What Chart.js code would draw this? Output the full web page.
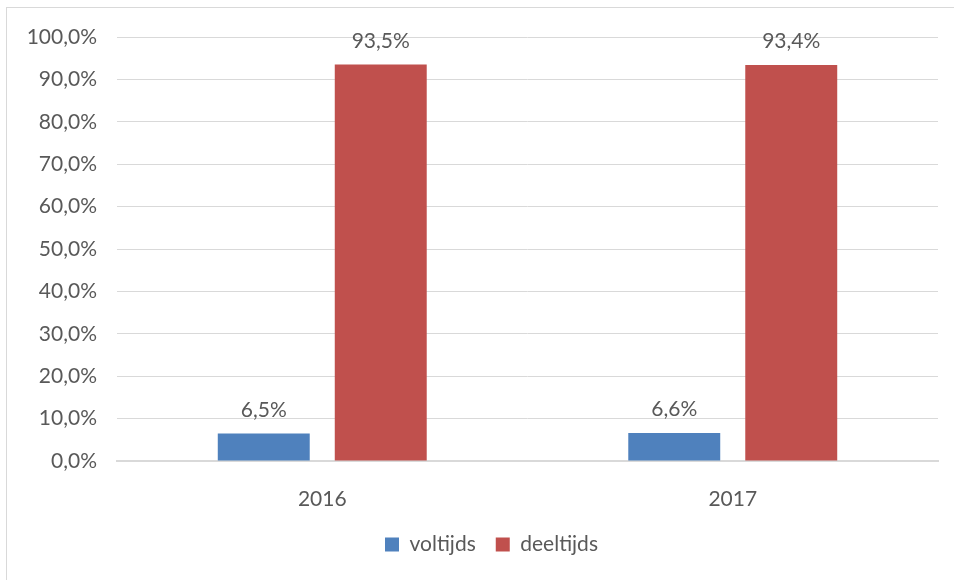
<!DOCTYPE html>
<html>
<head>
<meta charset="utf-8">
<script src="https://cdn.jsdelivr.net/npm/chart.js@4"></script>
<style>
    html, body { margin: 0; padding: 0; background: #fff; overflow: hidden; }
    #frame {
        position: absolute; left: 6px; top: 7px;
        width: 972px; height: 600px;
        border: 1px solid #d9d9d9; background: #fff;
    }
</style>
</head>
<body>
<div id="frame"><canvas id="chart" width="972" height="600"></canvas></div>
<script>
// Datos del gráfico
const categories = ['2016', '2017'];
const voltijds = [6.5, 6.6];
const deeltijds = [93.5, 93.4];
const seriesNames = ['voltijds', 'deeltijds'];
const seriesColors = ['#4f81bd', '#c0504d'];

const textColor = '#595959';
const fontFamily = 'Lato, "Open Sans", sans-serif';
const fontSize = 21;

// Formato con coma decimal
const formatPct = (value) => value.toFixed(1).replace('.', ',') + '%';

// Etiquetas encima de las barras + leyenda desplazada (el marco original es más ancho)
const barLabels = {
    id: 'barLabels',
    beforeDraw(chart) {
        chart.legend.left = 38;
    },
    afterDatasetsDraw(chart) {
        const ctx = chart.ctx;
        ctx.save();
        ctx.fillStyle = textColor;
        ctx.font = fontSize + 'px ' + fontFamily;
        ctx.textAlign = 'center';
        ctx.textBaseline = 'bottom';
        chart.data.datasets.forEach((ds, i) => {
            chart.getDatasetMeta(i).data.forEach((bar, j) => {
                ctx.fillText(formatPct(ds.data[j]), bar.x, bar.y - 13);
            });
        });
        ctx.restore();
    }
};

new Chart(document.getElementById('chart'), {
    type: 'bar',
    data: {
        labels: categories,
        datasets: [
            { label: seriesNames[0], data: voltijds, backgroundColor: seriesColors[0] },
            { label: seriesNames[1], data: deeltijds, backgroundColor: seriesColors[1] }
        ]
    },
    options: {
        responsive: false,
        animation: false,
        categoryPercentage: 0.57,
        barPercentage: 0.786,
        layout: { padding: { top: 29, right: 41, left: 0, bottom: 43 } },
        plugins: {
            legend: {
                position: 'bottom',
                labels: {
                    color: textColor,
                    font: { family: fontFamily, size: fontSize },
                    boxWidth: 14,
                    boxHeight: 14,
                    padding: 20
                }
            },
            tooltip: { enabled: false }
        },
        scales: {
            x: {
                grid: { display: false },
                border: { color: '#d9d9d9', width: 2 },
                ticks: {
                    color: textColor,
                    font: { family: fontFamily, size: fontSize },
                    padding: 18
                },
                afterFit: (scale) => { scale.height = 53; }
            },
            y: {
                min: 0,
                max: 100,
                grid: { color: '#d9d9d9', drawTicks: false },
                border: { display: false },
                ticks: {
                    stepSize: 10,
                    color: textColor,
                    font: { family: fontFamily, size: fontSize },
                    padding: 20,
                    callback: (value) => formatPct(value)
                },
                afterFit: (scale) => {
                    scale.width = 110;
                    scale.paddingTop = 0;
                    scale.paddingBottom = 0;
                }
            }
        }
    },
    plugins: [barLabels]
});
</script>
</body>
</html>
